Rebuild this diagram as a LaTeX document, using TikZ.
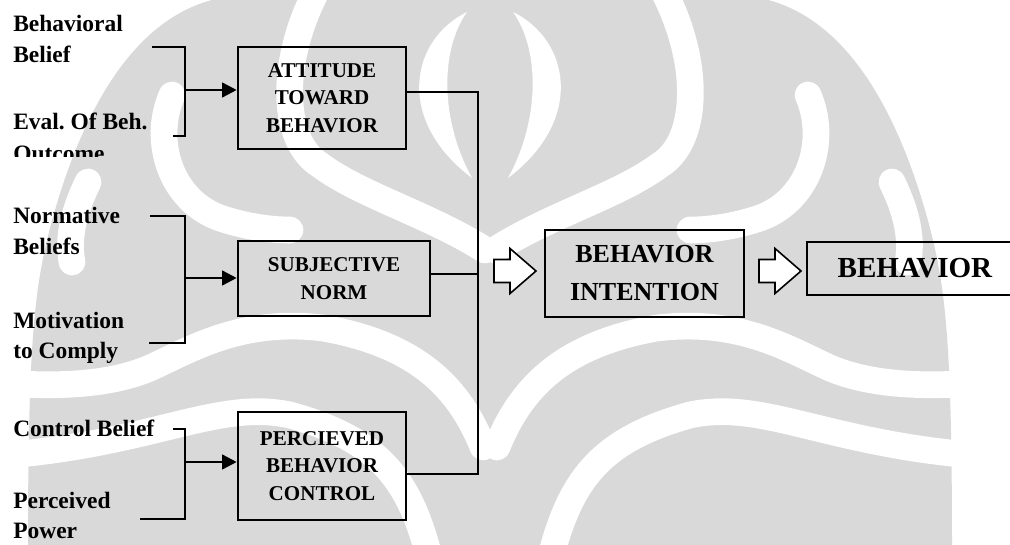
\documentclass[tikz,border=0pt]{standalone}
\usepackage{fontspec}
\setmainfont{Liberation Serif}
\usetikzlibrary{arrows.meta}
\frenchspacing

\definecolor{wmgray}{gray}{0.85}

\tikzset{
  lbl/.style={font=\fontsize{17.6}{21}\selectfont\bfseries, anchor=base west, inner sep=0pt},
  stagebox/.style={draw, line width=1.9pt, align=center, inner sep=0pt,
    font=\fontsize{15.8}{20.8}\selectfont\bfseries},
  wire/.style={line width=1.9pt},
  feed/.style={line width=1.9pt, -{Triangle[length=11pt,width=11pt]}},
  wmband/.style={draw=white, line width=20pt, line cap=round},
  pics/hollowarrow/.style={code={
    \draw[line width=1.2pt, fill=white, line join=miter]
      (0,-11.5) -- (16,-11.5) -- (16,-22.5) -- (42,0) -- (16,22.5) -- (16,11.5) -- (0,11.5) -- cycle;
  }}
}

% one half of the background emblem, drawn from its axis outwards
\newcommand\emblemhalf{%
  \fill[wmgray] (0,-5) -- (240,-5) .. controls (340,-5) and (400,90) .. (435,210)
    .. controls (455,280) and (462,330) .. (462,550) -- (0,550) -- cycle;
  \fill[white] (23,12) .. controls (80,40) and (95,120) .. (18,178)
    .. controls (50,120) and (50,50) .. (23,12) -- cycle;
  \draw[wmband] (173,-10) .. controls (210,60) and (210,140) .. (170,165)
    .. controls (130,195) and (60,215) .. (5,250);
  \draw[wmband] (318,95) .. controls (338,140) and (320,200) .. (270,218)
    .. controls (240,228) and (215,230) .. (200,230);
  \draw[wmband] (402,182) .. controls (418,215) and (422,240) .. (418,262);
  \draw[wmband] (7,447) .. controls (30,390) and (70,345) .. (167,328)
    .. controls (250,318) and (300,350) .. (340,368) .. controls (380,385) and (430,386) .. (470,384);
  \draw[wmband] (60,560) .. controls (80,480) and (110,440) .. (200,415)
    .. controls (270,400) and (330,440) .. (470,454);
}

\begin{document}
\begin{tikzpicture}[x=0.75pt,y=-0.75pt]
\useasboundingbox (0,0) rectangle (1010,545);

% ---- faint emblem in the background ----
\begin{scope}
  \clip (0,0) rectangle (1010,545);
  \begin{scope}[shift={(490,0)}] \emblemhalf \end{scope}
  \begin{scope}[shift={(490,0)}, xscale=-1] \emblemhalf \end{scope}
\end{scope}

% ---- stage boxes ----
\node[stagebox, minimum width={168*0.75pt}, minimum height={102*0.75pt}] (att) at (322,98)
  {ATTITUDE\\TOWARD\\BEHAVIOR};
\node[stagebox, minimum width={192*0.75pt}, minimum height={75*0.75pt}] (sn) at (334,278.5)
  {SUBJECTIVE\\NORM};
\node[stagebox, minimum width={168*0.75pt}, minimum height={108*0.75pt}] (pbc) at (322,466)
  {PERCIEVED\\BEHAVIOR\\CONTROL};
\node[stagebox, minimum width={199*0.75pt}, minimum height={87*0.75pt},
  font=\fontsize{19.5}{28.5}\selectfont\bfseries] (bi) at (644.5,273.5)
  {BEHAVIOR\\INTENTION};
\node[stagebox, minimum width={206*0.75pt}, minimum height={53*0.75pt},
  font=\fontsize{21.8}{26}\selectfont\bfseries, text width={182*0.75pt}, align=left] (beh) at (910,268.5)
  {\hspace*{14pt}BEHAVIOR};

% ---- belief labels ----
\node[lbl] (bb1) at (13,32) {Behavioral};
\node[lbl] (bb2) at (13,63) {Belief};
\node[lbl] (ev1) at (13,130) {Eval. Of Beh.};
\begin{scope}
  \clip (0,140) rectangle (300,157);
  \node[lbl] (ev2) at (13,162) {Outcome};
\end{scope}
\node[lbl] (nb1) at (13,224) {Normative};
\node[lbl] (nb2) at (13,255) {Beliefs};
\node[lbl] (mc1) at (13,328) {Motivation};
\node[lbl] (mc2) at (13,358) {to Comply};
\node[lbl] (cb) at (13,436) {Control Belief};
\node[lbl] (pp1) at (13,508) {Perceived};
\node[lbl] (pp2) at (13,538) {Power};

% ---- brackets joining the belief pairs ----
\coordinate (a1) at (152,47);  \coordinate (a2) at (173,136); \coordinate (aj) at (185,90);
\coordinate (s1) at (150,216); \coordinate (s2) at (149,343); \coordinate (sj) at (185,278);
\coordinate (p1) at (173,429); \coordinate (p2) at (140,519); \coordinate (pj) at (185,462);

\draw[wire] (a1) -- (a1 -| aj) -- (a2 -| aj) -- (a2);
\draw[wire] (s1) -- (s1 -| sj) -- (s2 -| sj) -- (s2);
\draw[wire] (p1) -- (p1 -| pj) -- (p2 -| pj) -- (p2);

\draw[feed] (aj) -- (aj -| att.west);
\draw[feed] (sj) -- (sj -| sn.west);
\draw[feed] (pj) -- (pj -| pbc.west);

% ---- collector line ----
\coordinate (ct) at (478,92);
\coordinate (cm) at (478,274);
\coordinate (cb0) at (478,474);
\draw[wire] (ct -| att.east) -- (ct) -- (cb0) -- (cb0 -| pbc.east);
\draw[wire] (cm -| sn.east) -- (cm);

% ---- hollow arrows ----
\coordinate (h1) at (494,271);
\coordinate (h2) at (759,271);
\pic at (h1) {hollowarrow};
\pic at (h2) {hollowarrow};
\end{tikzpicture}
\end{document}
